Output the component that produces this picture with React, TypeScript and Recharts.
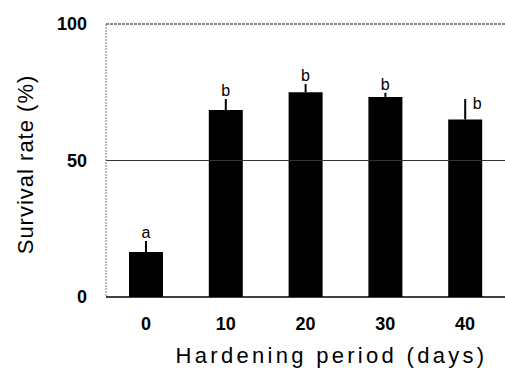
import React from 'react';
import {
  ComposedChart,
  Bar,
  Line,
  XAxis,
  YAxis,
  ErrorBar,
  LabelList,
  ReferenceLine,
  Label
} from 'recharts';

const days = ['0', '10', '20', '30', '40'];
const survival = [16.5, 68.5, 75, 73.3, 65];
const errUp = [4, 4, 3, 1.5, 7.5];
const letters = ['a', 'b', 'b', 'b', 'b'];
const yTicks = [0, 50, 100];
const boundaryTicks = [5, 15, 25, 35];

const data = days.map((d, i) => ({
  days: d,
  survival: survival[i],
  err: [0, errUp[i]],
  top: survival[i] + errUp[i],
  letter: letters[i]
}));

const tickFont = { fontFamily: 'Liberation Sans, Arial, sans-serif', fontSize: 18, fontWeight: 'bold', fill: '#000' };

const LetterLabel = (props: any) => {
  const { x, y, value, index } = props;
  // last letter sits beside the error bar in the original
  const side = index === 4;
  return (
    <text
      x={x + (side ? 12 : 0)}
      y={y + (side ? 10 : -3)}
      textAnchor="middle"
      fontFamily="Liberation Sans, Arial, sans-serif"
      fontSize={16}
      fill="#000"
    >
      {value}
    </text>
  );
};

export default function App() {
  return (
    <div style={{ position: 'absolute', left: 0, top: 0, background: '#fff' }}>
      <ComposedChart width={505} height={371} data={data} margin={{ top: 24, right: 0, bottom: 0, left: 0 }}>
        <XAxis
          dataKey="days"
          height={74}
          tickLine={false}
          tickSize={0}
          tickMargin={20}
          tick={tickFont}
          axisLine={{ stroke: '#000', strokeWidth: 1.5 }}
        >
          <Label
            value="Hardening period (days)"
            position="insideBottom"
            offset={8}
            dx={26}
            style={{ fontFamily: 'Liberation Sans, Arial, sans-serif', fontSize: 22, letterSpacing: 3.3, fill: '#000' }}
          />
        </XAxis>
        <XAxis
          xAxisId="bounds"
          type="number"
          domain={[-5, 45]}
          ticks={boundaryTicks}
          mirror
          tick={() => <g />}
          tickSize={5}
          tickLine={{ stroke: '#333' }}
          axisLine={false}
        />
        <YAxis
          width={106}
          domain={[0, 100]}
          ticks={yTicks}
          tickLine={false}
          tickSize={0}
          tickMargin={19}
          tick={tickFont}
          axisLine={{ stroke: '#777', strokeDasharray: '2 1' }}
        >
          <Label
            value="Survival rate (%)"
            angle={-90}
            position="center"
            dx={-28}
            dy={4}
            style={{ fontFamily: 'Liberation Sans, Arial, sans-serif', fontSize: 22, letterSpacing: 1, fill: '#000', textAnchor: 'middle' }}
          />
        </YAxis>
        <ReferenceLine y={50} stroke="#333" strokeWidth={1} />
        <ReferenceLine y={100} stroke="#666" strokeWidth={1.5} strokeDasharray="3 1" />
        <Bar dataKey="survival" fill="#000" barSize={34} isAnimationActive={false}>
          <ErrorBar dataKey="err" direction="y" width={0} stroke="#000" strokeWidth={2} />
        </Bar>
        <Line dataKey="top" stroke="none" dot={false} activeDot={false} isAnimationActive={false}>
          <LabelList dataKey="letter" content={<LetterLabel />} />
        </Line>
      </ComposedChart>
    </div>
  );
}
